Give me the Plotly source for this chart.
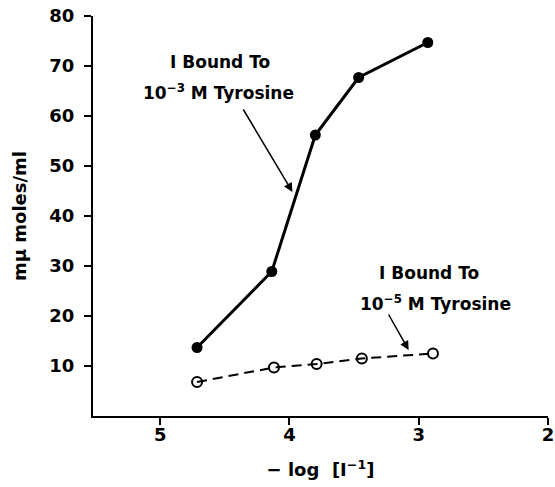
import plotly.graph_objects as go

# Data
x_high = [4.715, 4.137, 3.80, 3.465, 2.93]
y_high = [13.7, 28.9, 56.2, 67.7, 74.7]   # I bound to 1e-3 M tyrosine

x_low = [4.715, 4.12, 3.79, 3.44, 2.89]
y_low = [6.8, 9.7, 10.4, 11.5, 12.5]      # I bound to 1e-5 M tyrosine

x_ticks = [5, 4, 3, 2]
y_ticks = [10, 20, 30, 40, 50, 60, 70, 80]

FONT = "DejaVu Sans"
ink = "black"

fig = go.Figure()
fig.add_trace(go.Scatter(
    x=x_high, y=y_high, mode="lines+markers",
    line=dict(color=ink, width=3),
    marker=dict(symbol="circle", size=11, color=ink),
    showlegend=False, cliponaxis=False))
fig.add_trace(go.Scatter(
    x=x_low, y=y_low, mode="lines+markers",
    line=dict(color=ink, width=2, dash="10px,6px"),
    marker=dict(symbol="circle-open", size=10, color=ink, line=dict(width=2)),
    showlegend=False, cliponaxis=False))

ann_font = dict(family=FONT, size=17, color=ink, weight="bold")
annotations = [
    dict(x=4.535, y=70.8, text="I Bound To", showarrow=False),
    dict(x=4.55, y=64.8, text="10<sup>−3</sup> M Tyrosine", showarrow=False),
    dict(x=2.922, y=28.6, text="I Bound To", showarrow=False),
    dict(x=2.868, y=22.6, text="10<sup>−5</sup> M Tyrosine", showarrow=False),
    dict(x=3.977, y=44.8, ax=4.364, ay=61.6, axref="x", ayref="y", text="",
         showarrow=True, arrowhead=2, arrowsize=1.2, arrowwidth=1.5, arrowcolor=ink),
    dict(x=3.078, y=13.2, ax=3.24, ay=20.6, axref="x", ayref="y", text="",
         showarrow=True, arrowhead=2, arrowsize=1.2, arrowwidth=1.5, arrowcolor=ink),
]
for a in annotations:
    a.setdefault("font", ann_font)
    a["xref"] = "x"
    a["yref"] = "y"

fig.update_layout(
    width=555, height=487,
    margin=dict(l=93, r=7, t=16, b=71),
    paper_bgcolor="white", plot_bgcolor="white",
    font=dict(family=FONT, size=18, color=ink, weight="bold"),
    annotations=annotations,
    xaxis=dict(
        range=[5.52, 2], tickvals=x_ticks, ticktext=[str(v) for v in x_ticks],
        showgrid=False, zeroline=False, showline=True, linecolor=ink, linewidth=2,
        ticks="outside", ticklen=7, tickwidth=2, tickcolor=ink,
        ticklabelstandoff=-6,
        ticklabeloverflow="allow", automargin=False,
        tickfont=dict(family=FONT, size=18, weight="bold"),
        title=dict(text="− log  [I<sup>−1</sup>]", standoff=20,
                   font=dict(family=FONT, size=18, weight="bold")),
    ),
    yaxis=dict(
        range=[0, 80], tickvals=y_ticks, ticktext=[str(v) for v in y_ticks],
        showgrid=False, zeroline=False, showline=True, linecolor=ink, linewidth=2,
        ticks="outside", ticklen=7, tickwidth=2, tickcolor=ink,
        ticklabelstandoff=6, ticklabeloverflow="allow", automargin=False,
        tickfont=dict(family=FONT, size=18, weight="bold"),
        title=dict(text="mμ moles/ml", standoff=18,
                   font=dict(family=FONT, size=18, weight="bold")),
    ),
)

fig.write_html("out.html",
               config={"displayModeBar": False},
               post_script="document.body.style.margin='0';document.body.style.overflow='hidden';")
